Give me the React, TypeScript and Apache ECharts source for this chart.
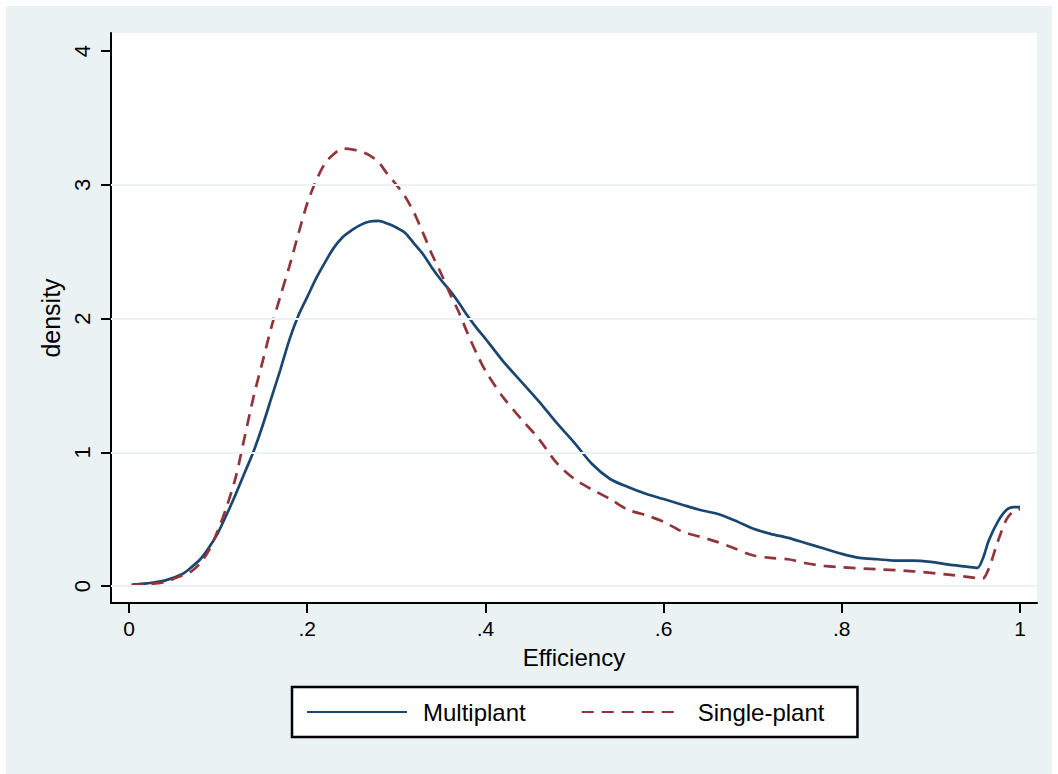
import React, { useEffect, useRef } from "react";
import * as echarts from "echarts";

const xTicks = [0, 0.2, 0.4, 0.6, 0.8, 1];
const yTicks = [0, 1, 2, 3, 4];
const gridValues = [0, 1, 2, 3];
const seriesNames = ["Multiplant", "Single-plant"];

const multiX = [0.003, 0.02, 0.04, 0.06, 0.07, 0.08, 0.09, 0.1, 0.11, 0.12, 0.13, 0.14, 0.15, 0.16, 0.17, 0.18, 0.19, 0.2, 0.21, 0.22, 0.23, 0.24, 0.25, 0.26, 0.27, 0.28, 0.29, 0.3, 0.31, 0.32, 0.33, 0.34, 0.35, 0.36, 0.37, 0.38, 0.39, 0.4, 0.42, 0.44, 0.46, 0.48, 0.5, 0.52, 0.54, 0.56, 0.58, 0.6, 0.62, 0.64, 0.66, 0.68, 0.7, 0.72, 0.74, 0.76, 0.78, 0.8, 0.82, 0.84, 0.86, 0.88, 0.9, 0.92, 0.94, 0.952, 0.958, 0.965, 0.975, 0.985, 0.993, 1.0];
const multiY = [0.01, 0.02, 0.04, 0.09, 0.14, 0.2, 0.29, 0.4, 0.54, 0.69, 0.85, 1.01, 1.2, 1.41, 1.62, 1.84, 2.02, 2.16, 2.3, 2.42, 2.53, 2.61, 2.66, 2.7, 2.725, 2.73, 2.71, 2.68, 2.64, 2.56, 2.48, 2.38, 2.29, 2.21, 2.12, 2.02, 1.93, 1.85, 1.68, 1.53, 1.38, 1.22, 1.07, 0.91, 0.8, 0.74, 0.69, 0.65, 0.61, 0.57, 0.54, 0.49, 0.43, 0.39, 0.36, 0.32, 0.28, 0.24, 0.21, 0.2, 0.19, 0.19, 0.18, 0.16, 0.145, 0.135, 0.2, 0.34, 0.48, 0.57, 0.59, 0.59];

const singleX = [0.003, 0.02, 0.04, 0.06, 0.07, 0.08, 0.09, 0.1, 0.11, 0.12, 0.13, 0.14, 0.15, 0.16, 0.17, 0.18, 0.19, 0.2, 0.21, 0.22, 0.23, 0.24, 0.25, 0.26, 0.27, 0.28, 0.29, 0.3, 0.31, 0.32, 0.33, 0.34, 0.35, 0.36, 0.37, 0.38, 0.39, 0.4, 0.42, 0.44, 0.46, 0.48, 0.5, 0.52, 0.54, 0.56, 0.58, 0.6, 0.62, 0.64, 0.66, 0.68, 0.7, 0.72, 0.74, 0.76, 0.78, 0.8, 0.84, 0.88, 0.92, 0.95, 0.958, 0.965, 0.975, 0.985, 0.993, 1.0];
const singleY = [0.005, 0.012, 0.03, 0.08, 0.11, 0.17, 0.27, 0.42, 0.6, 0.82, 1.12, 1.42, 1.68, 1.94, 2.17, 2.39, 2.63, 2.86, 3.03, 3.16, 3.23, 3.27, 3.265, 3.25, 3.22, 3.17, 3.08, 3.0, 2.91, 2.79, 2.64, 2.48, 2.34, 2.19, 2.05, 1.89, 1.74, 1.61, 1.41, 1.25, 1.1, 0.92, 0.8, 0.72, 0.65, 0.57, 0.53, 0.48, 0.41, 0.37, 0.33, 0.28, 0.23, 0.21, 0.2, 0.17, 0.15, 0.14, 0.125, 0.11, 0.085, 0.06, 0.055, 0.13, 0.33, 0.5, 0.56, 0.575];

const FONT = "Liberation Sans, Arial, Helvetica, sans-serif";

function fmtX(v: number): string {
  if (v === 0) return "0";
  if (v === 1) return "1";
  return String(v).replace(/^0\./, ".");
}

export default function App() {
  const ref = useRef<HTMLDivElement>(null);
  useEffect(() => {
    if (!ref.current) return;
    const chart = echarts.init(ref.current, null, { renderer: "svg" });
    const multiData = multiX.map((x, i) => [x, multiY[i]]);
    const singleData = singleX.map((x, i) => [x, singleY[i]]);
    chart.setOption({
      animation: false,
      backgroundColor: "#ffffff",
      textStyle: { fontFamily: FONT, color: "#000" },
      graphic: [
        {
          type: "rect",
          silent: true,
          z: -100,
          shape: { x: 6, y: 6, width: 1046, height: 768 },
          style: { fill: "#eaf2f3" },
        },
      ],
      grid: {
        left: 111,
        right: 21,
        top: 33,
        bottom: 171,
        show: true,
        backgroundColor: "#ffffff",
        borderWidth: 0,
      },
      legend: {
        data: seriesNames,
        left: 292,
        top: 687,
        orient: "horizontal",
        itemWidth: 100,
        itemHeight: 14,
        itemGap: 55,
        padding: [13, 33, 13, 14],
        backgroundColor: "#ffffff",
        borderColor: "#000000",
        borderWidth: 2.5,
        borderRadius: 0,
        itemStyle: { opacity: 0, borderWidth: 0 },
        formatter: (name: string) => `{t|${name}}`,
        textStyle: {
          fontFamily: FONT,
          fontSize: 24,
          color: "#000",
          rich: {
            t: { fontFamily: FONT, fontSize: 24, color: "#000", padding: [0, 0, 0, 11], lineHeight: 26 },
          },
        },
      },
      xAxis: {
        type: "value",
        min: -0.0202,
        max: 1.0191,
        name: "Efficiency",
        nameLocation: "middle",
        nameGap: 42,
        nameTextStyle: { fontFamily: FONT, fontSize: 24, color: "#000" },
        axisLine: { show: true, onZero: false, lineStyle: { color: "#000", width: 2 } },
        axisTick: { show: true, customValues: xTicks, length: 10, lineStyle: { color: "#000", width: 2 } },
        axisLabel: {
          customValues: xTicks,
          formatter: (v: number) => fmtX(v),
          fontFamily: FONT,
          fontSize: 21,
          color: "#000",
          margin: 15,
        },
        splitLine: { show: false },
      },
      yAxis: {
        type: "value",
        min: -0.127,
        max: 4.1346,
        name: "density",
        nameLocation: "middle",
        nameGap: 45,
        nameTextStyle: { fontFamily: FONT, fontSize: 25, color: "#000" },
        axisLine: { show: true, onZero: false, lineStyle: { color: "#000", width: 2 } },
        axisTick: { show: true, customValues: yTicks, length: 10, lineStyle: { color: "#000", width: 2 } },
        axisLabel: {
          customValues: yTicks,
          rotate: 90,
          fontFamily: FONT,
          fontSize: 22,
          color: "#000",
          margin: 18,
        },
        splitLine: { show: false },
      },
      series: [
        {
          name: "grid",
          type: "line",
          data: [],
          z: 1,
          silent: true,
          markLine: {
            silent: true,
            symbol: "none",
            label: { show: false },
            lineStyle: { color: "#eaf2f3", width: 2, type: "solid" },
            data: gridValues.map((v) => ({ yAxis: v })),
          },
        },
        {
          name: seriesNames[0],
          type: "line",
          data: multiData,
          z: 3,
          smooth: 0.3,
          showSymbol: false,
          symbol: "none",
          color: "#1a476f",
          lineStyle: { color: "#1a476f", width: 2.7, type: "solid" },
        },
        {
          name: seriesNames[1],
          type: "line",
          data: singleData,
          z: 4,
          smooth: 0.3,
          showSymbol: false,
          symbol: "none",
          color: "#90353b",
          lineStyle: { color: "#90353b", width: 2.7, type: [12, 8] },
        },
      ],
    });
    return () => chart.dispose();
  }, []);
  return (
    <div
      ref={ref}
      style={{ position: "fixed", left: 0, top: 0, width: 1058, height: 774, background: "#ffffff" }}
    />
  );
}
